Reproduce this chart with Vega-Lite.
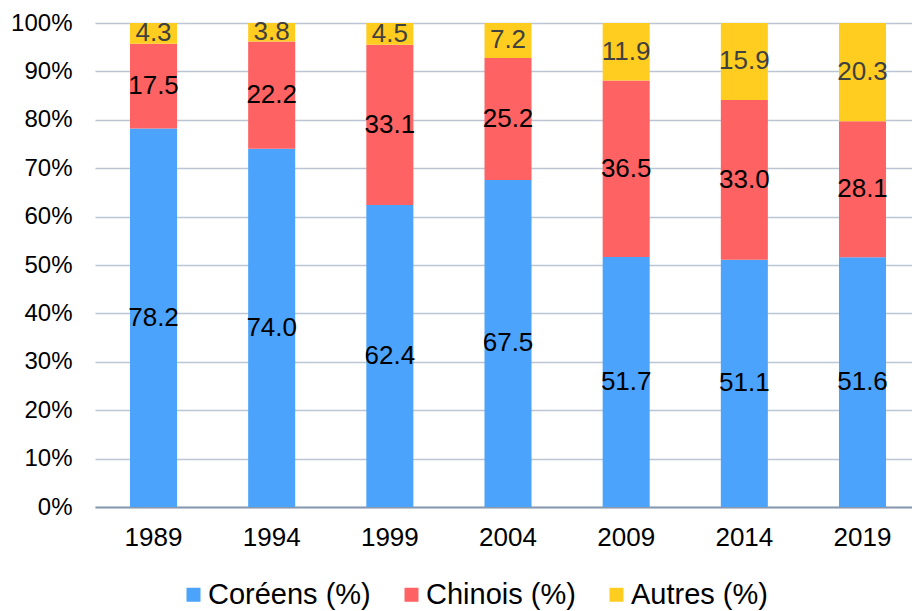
{
  "$schema": "https://vega.github.io/schema/vega-lite/v6.json",
  "width": 817,
  "height": 484,
  "autosize": {"type": "none"},
  "padding": {"left": 95, "top": 23, "right": 0, "bottom": 104},
  "background": "white",
  "config": {
    "view": {"stroke": null},
    "font": "Liberation Sans",
    "axis": {"labelFont": "Liberation Sans", "labelColor": "#000000"}
  },
  "data": {
    "values": [
      {"year": "1989", "group": "Coréens (%)", "value": 78.2},
      {"year": "1989", "group": "Chinois (%)", "value": 17.5},
      {"year": "1989", "group": "Autres (%)", "value": 4.3},
      {"year": "1994", "group": "Coréens (%)", "value": 74.0},
      {"year": "1994", "group": "Chinois (%)", "value": 22.2},
      {"year": "1994", "group": "Autres (%)", "value": 3.8},
      {"year": "1999", "group": "Coréens (%)", "value": 62.4},
      {"year": "1999", "group": "Chinois (%)", "value": 33.1},
      {"year": "1999", "group": "Autres (%)", "value": 4.5},
      {"year": "2004", "group": "Coréens (%)", "value": 67.5},
      {"year": "2004", "group": "Chinois (%)", "value": 25.2},
      {"year": "2004", "group": "Autres (%)", "value": 7.2},
      {"year": "2009", "group": "Coréens (%)", "value": 51.7},
      {"year": "2009", "group": "Chinois (%)", "value": 36.5},
      {"year": "2009", "group": "Autres (%)", "value": 11.9},
      {"year": "2014", "group": "Coréens (%)", "value": 51.1},
      {"year": "2014", "group": "Chinois (%)", "value": 33.0},
      {"year": "2014", "group": "Autres (%)", "value": 15.9},
      {"year": "2019", "group": "Coréens (%)", "value": 51.6},
      {"year": "2019", "group": "Chinois (%)", "value": 28.1},
      {"year": "2019", "group": "Autres (%)", "value": 20.3}
    ]
  },
  "transform": [
    {"stack": "value", "groupby": ["year"], "offset": "normalize", "sort": [{"field": "group", "order": "descending"}], "as": ["v0", "v1"]},
    {"calculate": "(datum.v0 + datum.v1) / 2", "as": "mid"}
  ],
  "encoding": {
    "x": {
      "field": "year", "type": "nominal", "title": null,
      "scale": {"paddingInner": 0.602, "paddingOuter": 0.258, "align": 0.574},
      "axis": {
        "labelAngle": 0, "labelFontSize": 26, "labelPadding": 17, "ticks": false,
        "domainColor": "#8a99b0", "domainWidth": 2, "grid": false
      }
    }
  },
  "layer": [
    {
      "mark": {"type": "bar"},
      "encoding": {
        "y": {
          "field": "v0", "type": "quantitative", "title": null,
          "scale": {"domain": [0, 1], "nice": false},
          "axis": {
            "format": ".0%", "values": [0, 0.1, 0.2, 0.3, 0.4, 0.5, 0.6, 0.7, 0.8, 0.9, 1],
            "labelFontSize": 24, "labelPadding": 23, "ticks": false, "domain": false,
            "gridColor": "#bcc5d4", "gridWidth": 1.5
          }
        },
        "y2": {"field": "v1"},
        "color": {
          "field": "group", "type": "nominal", "title": null,
          "scale": {"domain": ["Coréens (%)", "Chinois (%)", "Autres (%)"], "range": ["#4ba3fb", "#fe6262", "#ffcd1f"]},
          "legend": {
            "orient": "none", "direction": "horizontal", "legendX": 84, "legendY": 557,
            "symbolType": "square", "symbolSize": 196, "symbolStrokeWidth": 0, "symbolOpacity": 1,
            "labelFontSize": 29, "labelFont": "Liberation Sans", "labelColor": "#000000", "labelOffset": 0,
            "columnPadding": 26, "padding": 0, "labelLimit": 400
          }
        }
      }
    },
    {
      "mark": {"type": "text", "fontSize": 26, "font": "Liberation Sans", "baseline": "middle", "align": "center"},
      "encoding": {
        "y": {"field": "mid", "type": "quantitative"},
        "text": {"field": "value", "type": "quantitative", "format": ".1f"},
        "color": {"condition": {"test": "datum.group === 'Autres (%)'", "value": "#404040"}, "value": "#000000"}
      }
    }
  ]
}
